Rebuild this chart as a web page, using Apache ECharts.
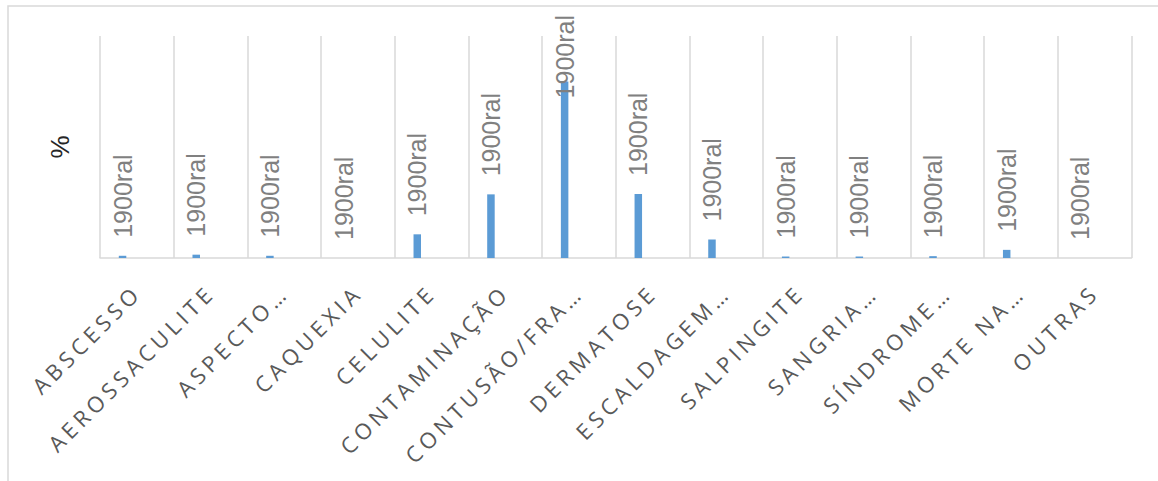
<!DOCTYPE html>
<html><head><meta charset="utf-8">
<script src="https://cdn.jsdelivr.net/npm/echarts@6/dist/echarts.min.js"></script>
<style>
html,body{margin:0;padding:0;background:#fff;}
#chart{width:1158px;height:481px;}
#chart text[fill="#595959"]{letter-spacing:4.5px;}
</style></head>
<body><div id="chart"></div>
<script>
// ---- data ----
const categories = ['ABSCESSO','AEROSSACULITE','ASPECTO…','CAQUEXIA','CELULITE','CONTAMINAÇÃO','CONTUSÃO/FRA…','DERMATOSE','ESCALDAGEM…','SALPINGITE','SANGRIA…','SÍNDROME…','MORTE NA…','OUTRAS'];
const values = [0.6, 0.9, 0.6, 0, 6.4, 17.2, 47.7, 17.3, 5.0, 0.4, 0.4, 0.5, 2.2, 0];
const secondSeries = ['-','-','-','-','-','-','-','-','-','-','-','-','-','-'];
const valueLabelText = '1900ral';
const yAxisTitle = '%';
const yMin = 0, yMax = 60;

// ---- styling ----
const LABEL_FONT = 'Liberation Sans, Arial, sans-serif';
const LABEL_SIZE = 25;
const LABEL_DIST = 18;
const LABEL_TOP_LIMIT = 15;

const chart = echarts.init(document.getElementById('chart'), null, {renderer: 'svg'});

function buildOption(barData) {
  return {
    animation: false,
    backgroundColor: '#ffffff',
    graphic: [{
      type: 'rect', silent: true,
      shape: {x: 8, y: 6, width: 1170, height: 490},
      style: {fill: 'none', stroke: '#d9d9d9', lineWidth: 1.5}
    }],
    grid: {left: 100, right: 26.5, top: 36, bottom: 223, containLabel: false},
    xAxis: {
      type: 'category',
      data: categories,
      boundaryGap: true,
      axisLine: {show: true, lineStyle: {color: '#d9d9d9', width: 1.5}},
      axisTick: {show: false},
      splitLine: {show: true, lineStyle: {color: '#d9d9d9', width: 1.5}},
      axisLabel: {
        interval: 0, rotate: 45, margin: 30,
        color: '#595959', fontSize: 22, fontFamily: 'Open Sans, sans-serif'
      }
    },
    yAxis: {
      type: 'value', min: yMin, max: yMax,
      axisLine: {show: false}, axisTick: {show: false},
      axisLabel: {show: false}, splitLine: {show: false},
      name: yAxisTitle, nameLocation: 'middle', nameRotate: 90, nameGap: 27,
      nameTextStyle: {color: '#262626', fontSize: 26, fontFamily: LABEL_FONT}
    },
    series: [{
      type: 'bar',
      data: barData,
      barWidth: 7.5,
      barGap: '281%',
      itemStyle: {color: '#5b9bd5'},
      label: {
        show: true, position: 'top', rotate: 90, align: 'left', verticalAlign: 'middle',
        distance: LABEL_DIST,
        formatter: () => valueLabelText,
        color: '#808080', fontSize: LABEL_SIZE, fontFamily: LABEL_FONT
      }
    }, {
      type: 'bar',
      data: secondSeries,
      barWidth: 7.5,
      itemStyle: {color: '#ed7d31'}
    }]
  };
}

chart.setOption(buildOption(values));

// keep the rotated value labels inside the chart area (as the original does)
const ctx = document.createElement('canvas').getContext('2d');
ctx.font = LABEL_SIZE + 'px ' + LABEL_FONT;
const labelLen = ctx.measureText(valueLabelText).width;
const adjusted = values.map((v, i) => {
  const p = chart.convertToPixel({seriesIndex: 0}, [i, v]);
  const top = p[1] - LABEL_DIST - labelLen;
  if (top < LABEL_TOP_LIMIT) {
    return {value: v, label: {distance: p[1] - labelLen - LABEL_TOP_LIMIT}};
  }
  return v;
});
chart.setOption(buildOption(adjusted));
</script>
</body></html>
